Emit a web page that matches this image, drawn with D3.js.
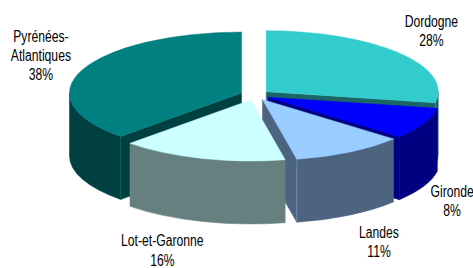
<!DOCTYPE html>
<html>
<head>
<meta charset="utf-8">
<script src="https://cdn.jsdelivr.net/npm/d3@7"></script>
<style>
  body { margin: 0; background: #fff; }
  svg { display: block; }
</style>
</head>
<body>
<svg id="chart"></svg>
<script>
// data
const departements = ["Dordogne", "Gironde", "Landes", "Lot-et-Garonne", "Pyrénées-Atlantiques"]
const labelLines = [["Dordogne"], ["Gironde"], ["Landes"], ["Lot-et-Garonne"], ["Pyrénées-", "Atlantiques"]]
const parts = [27.9, 8.3, 10.6, 15.6, 37.6]
const topColors = ["#33cccc", "#0000ff", "#99ccff", "#ccffff", "#008080"]
const sideColors = ["#1a6666", "#000080", "#4d6480", "#668080", "#004040"]

// small hand nudges for the label boxes (layout only)
const labelNudge = [[-5, 0], [-9.5, 0], [-9, -2], [-1.5, -3.5], [-3.5, -1.5]]

const W = 473, H = 268
const cx = 255, cy = 95      // pie centre (top face)
const rx = 172, ry = 61      // ellipse radii
const depth = 63             // thickness
const explode = 0.085        // explosion, fraction of radius

const svg = d3.select("#chart").attr("width", W).attr("height", H)
svg.append("rect").attr("width", W).attr("height", H).attr("fill", "#fff")

const total = d3.sum(parts)
const slices = d3.pie().sort(null).value(d => d)(parts)

// apex of each exploded slice
slices.forEach((s, i) => {
    s.i = i
    s.mid = (s.startAngle + s.endAngle) / 2
    s.ax = cx + explode * rx * Math.sin(s.mid)
    s.ay = cy - explode * ry * Math.cos(s.mid)
})

function rim(s, a, dy = 0) {
    return [s.ax + rx * Math.sin(a), s.ay - ry * Math.cos(a) + dy]
}
const pt = p => p[0].toFixed(2) + "," + p[1].toFixed(2)

function topPath(s) {
    const large = s.endAngle - s.startAngle > Math.PI ? 1 : 0
    return "M" + pt([s.ax, s.ay]) + "L" + pt(rim(s, s.startAngle)) +
        "A" + rx + "," + ry + " 0 " + large + " 1 " + pt(rim(s, s.endAngle)) + "Z"
}

function radialFace(s, a) {
    return "M" + pt([s.ax, s.ay]) + "L" + pt(rim(s, a)) + "L" + pt(rim(s, a, depth)) +
        "L" + pt([s.ax, s.ay + depth]) + "Z"
}

function wallPath(s) {
    const lo = Math.max(s.startAngle, Math.PI / 2)
    const hi = Math.min(s.endAngle, 3 * Math.PI / 2)
    if (hi <= lo) return null
    return "M" + pt(rim(s, lo)) + "A" + rx + "," + ry + " 0 0 1 " + pt(rim(s, hi)) +
        "L" + pt(rim(s, hi, depth)) + "A" + rx + "," + ry + " 0 0 0 " + pt(rim(s, lo, depth)) + "Z"
}

// back slices first
const order = slices.slice().sort((a, b) => (-Math.cos(a.mid)) - (-Math.cos(b.mid)))

const g = svg.append("g")
order.forEach(s => {
    const sg = g.append("g")
    const side = sideColors[s.i]
    const faces = []
    if (Math.sin(s.startAngle) < -1e-6) faces.push(s.startAngle)
    if (Math.sin(s.endAngle) > 1e-6) faces.push(s.endAngle)
    faces.forEach(a => {
        sg.append("path").attr("d", radialFace(s, a))
            .attr("fill", side).attr("stroke", side).attr("stroke-width", 0.5)
    })
    const w = wallPath(s)
    if (w) {
        sg.append("path").attr("d", w)
            .attr("fill", side).attr("stroke", side).attr("stroke-width", 0.5)
    }
    // faint light edge where a radial face meets the wall
    faces.forEach(a => {
        if (-Math.cos(a) > 0) {
            const p0 = rim(s, a), p1 = rim(s, a, depth)
            sg.append("line")
                .attr("x1", p0[0]).attr("y1", p0[1]).attr("x2", p1[0]).attr("y2", p1[1])
                .attr("stroke", topColors[s.i]).attr("stroke-opacity", 0.45).attr("stroke-width", 0.8)
        }
    })
    sg.append("path").attr("d", topPath(s))
        .attr("fill", topColors[s.i]).attr("stroke", topColors[s.i]).attr("stroke-width", 0.5)
})

// labels
const fmt = v => Math.round(v / total * 100) + "%"
const lineH = 19.5
slices.forEach(s => {
    const front = Math.cos(s.mid) < 0
    const p = rim(s, s.mid, front ? depth : 0)
    const lx = p[0] + 38 * Math.sign(Math.sin(s.mid)) + labelNudge[s.i][0]
    const ly = p[1] - 34 * Math.cos(s.mid) + labelNudge[s.i][1]
    const lines = labelLines[s.i].concat([fmt(s.data)])
    const first = ly - (lines.length - 1) * lineH / 2 + 5.5
    const t = svg.append("g")
        .attr("transform", `translate(${lx.toFixed(1)},${first.toFixed(1)}) scale(0.76,1)`)
        .append("text")
        .attr("text-anchor", "middle")
        .attr("font-family", "'Liberation Sans', Arial, sans-serif")
        .attr("font-size", 16)
        .attr("fill", "#000")
    lines.forEach((l, k) => {
        t.append("tspan").attr("x", 0).attr("y", k * lineH).text(l)
    })
})
</script>
</body>
</html>
